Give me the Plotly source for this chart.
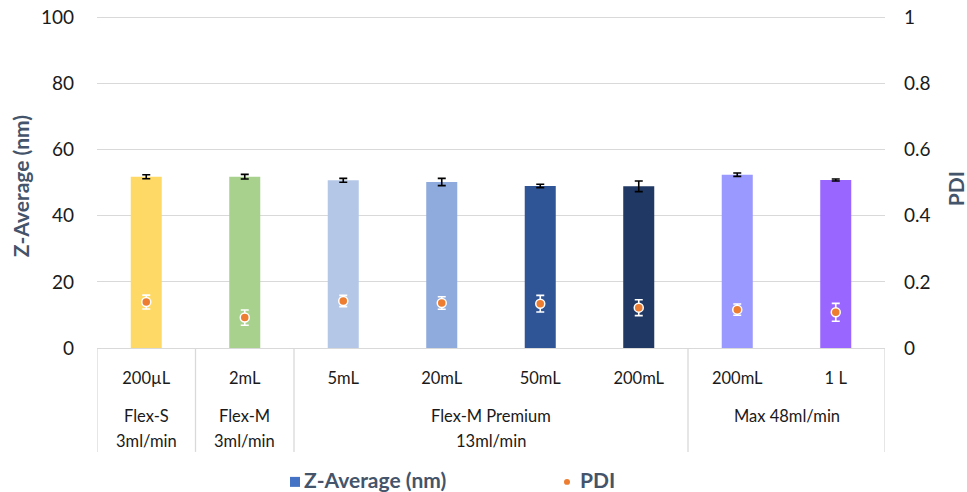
import plotly.graph_objects as go

sizes = ["200µL", "2mL", "5mL", "20mL", "50mL", "200mL", "200mL", "1 L"]
groups = ["Flex-S<br>3ml/min", "Flex-M<br>3ml/min", "Flex-M Premium<br>13ml/min", "Max 48ml/min"]
group_sizes = [1, 1, 4, 2]
z_avg = [51.8, 51.8, 50.7, 50.2, 49.0, 48.9, 52.4, 50.8]
z_err = [0.6, 0.7, 0.6, 1.1, 0.5, 1.6, 0.5, 0.3]
pdi = [0.139, 0.092, 0.142, 0.136, 0.134, 0.122, 0.116, 0.108]
pdi_err = [0.021, 0.023, 0.017, 0.019, 0.025, 0.024, 0.017, 0.027]
bar_colors = ["#FFD966", "#A9D18E", "#B4C7E7", "#8FAADC", "#2F5597", "#203864", "#9999FF", "#9966FF"]

FONT = "Lato, Liberation Sans, sans-serif"
TXT = "#1A1A1A"
TITLE = "#44546A"
xs = list(range(len(sizes)))

EXT = 1.01  # small headroom so the top gridline is drawn
PL, PR, PB = 97, 885, 348
PT = PB - 331 * EXT
PW, PH = PR - PL, PB - PT

def px(xp):
    return (xp - PL) / PW

def py(yp):
    return (PB - yp) / PH

fig = go.Figure()
fig.add_trace(go.Bar(
    x=xs, y=z_avg, width=0.315,
    marker=dict(color=bar_colors, line=dict(width=0)),
    error_y=dict(type="data", array=z_err, color="#000000", thickness=1.6, width=4),
    showlegend=False, name="Z-Average (nm)"))
fig.add_trace(go.Scatter(
    x=xs, y=pdi, mode="markers", yaxis="y2",
    marker=dict(color="#ED7D31", size=9, line=dict(color="#FFFFFF", width=1.5)),
    error_y=dict(type="data", array=pdi_err, color="#FFFFFF", thickness=1.6, width=4),
    showlegend=False, name="PDI"))

shapes = []
annotations = []
bounds = [-0.5]
for g in group_sizes:
    bounds.append(bounds[-1] + g)
for b in bounds:
    shapes.append(dict(type="line", xref="x", yref="paper", x0=b, x1=b, y0=0, y1=py(452),
                       line=dict(color="#D9D9D9", width=1.3)))
for i, g in enumerate(groups):
    cx = (bounds[i] + bounds[i + 1]) / 2
    for j, line in enumerate(g.split("<br>")):
        annotations.append(dict(x=cx, y=py(416 + 25 * j), xref="x", yref="paper", text=line,
                                showarrow=False, xanchor="center", yanchor="middle", align="center",
                                font=dict(family=FONT, size=16.5, color=TXT)))

annotations.append(dict(x=px(20), y=py(186), xref="paper", yref="paper", text="<b>Z-Average (nm)</b>",
                        textangle=-90, showarrow=False, xanchor="center", yanchor="middle",
                        font=dict(family=FONT, size=21, color=TITLE)))
annotations.append(dict(x=px(955), y=py(189), xref="paper", yref="paper", text="<b>PDI</b>",
                        textangle=-90, showarrow=False, xanchor="center", yanchor="middle",
                        font=dict(family=FONT, size=21, color=TITLE)))

ly = py(480)
shapes.append(dict(type="rect", xref="paper", yref="paper", x0=px(290), x1=px(300),
                   y0=py(487), y1=py(477), fillcolor="#4472C4", line=dict(width=0)))
annotations.append(dict(x=px(302), y=ly, xref="paper", yref="paper", text="<b>Z-Average (nm)</b>",
                        xanchor="left", yanchor="middle", showarrow=False,
                        font=dict(family=FONT, size=21, color=TITLE)))
shapes.append(dict(type="circle", xref="paper", yref="paper", x0=px(564), x1=px(570),
                   y0=py(485), y1=py(479), fillcolor="#ED7D31", line=dict(width=0)))
annotations.append(dict(x=px(578), y=ly, xref="paper", yref="paper", text="<b>PDI</b>",
                        xanchor="left", yanchor="middle", showarrow=False,
                        font=dict(family=FONT, size=21, color=TITLE)))

fig.update_layout(
    width=967, height=492,
    margin=dict(l=PL, r=967 - PR, t=PT, b=492 - PB, autoexpand=False),
    plot_bgcolor="#FFFFFF", paper_bgcolor="#FFFFFF",
    font=dict(family=FONT, size=16.5, color=TXT),
    xaxis=dict(range=[-0.5, 7.5], tickvals=xs, ticktext=sizes, showgrid=False, zeroline=False,
               showline=True, linecolor="#D9D9D9", linewidth=1.3, ticks="", ticklabelstandoff=15,
               tickfont=dict(family=FONT, size=16.5, color=TXT), fixedrange=True, automargin=False),
    yaxis=dict(range=[0, 100 * EXT], tickvals=[0, 20, 40, 60, 80, 100], showgrid=True,
               gridcolor="#D9D9D9", gridwidth=1.3, ticklabeloverflow="allow",
               zeroline=False, showline=False, ticks="", ticklabelstandoff=22, automargin=False,
               tickfont=dict(family=FONT, size=19, color=TXT)),
    yaxis2=dict(range=[0, 1 * EXT], tickvals=[0, 0.2, 0.4, 0.6, 0.8, 1], ticktext=["0", "0.2", "0.4", "0.6", "0.8", "1"],
                overlaying="y", side="right", showgrid=False, ticklabeloverflow="allow",
                zeroline=False, showline=False, ticks="", ticklabelstandoff=18, automargin=False,
                tickfont=dict(family=FONT, size=19, color=TXT)),
    shapes=shapes, annotations=annotations, bargap=0.68, showlegend=False,
)
fig.write_html("out.html", config={"displayModeBar": False},
               post_script="document.body.style.margin='0';document.body.style.overflow='hidden';")
